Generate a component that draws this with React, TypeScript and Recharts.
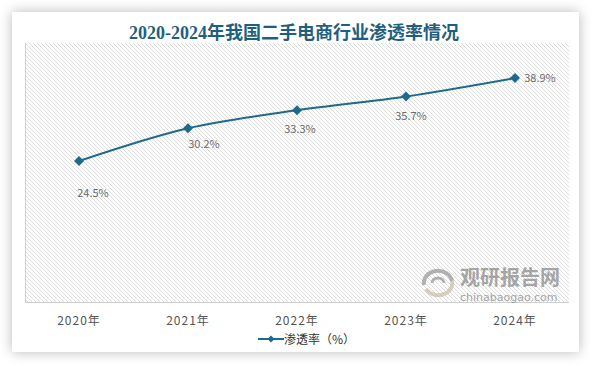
import { LineChart, Line, XAxis, YAxis, LabelList } from 'recharts';

const years = ['2020年', '2021年', '2022年', '2023年', '2024年'];
const penetration = [24.5, 30.2, 33.3, 35.7, 38.9];

const data = years.map((name, i) => ({ name, rate: penetration[i] }));

// label placement around each point
const labelPos = [
    { dx: 14, dy: 32 },
    { dx: 16, dy: 16 },
    { dx: 3, dy: 19 },
    { dx: 5, dy: 20 },
    { dx: 25, dy: 0 },
];

const LINE = '#1d6a8b';
const FONT = "'Noto Sans CJK SC', 'DejaVu Sans', sans-serif";

const Diamond = (props: any) => {
    const { cx, cy } = props;
    if (cx == null || cy == null) return null;
    return <path d={`M${cx},${cy - 5}L${cx + 5},${cy}L${cx},${cy + 5}L${cx - 5},${cy}Z`} fill={LINE} />;
};

const PointLabel = (props: any) => {
    const { x, y, value, index } = props;
    const p = labelPos[index] || { dx: 0, dy: 16 };
    return (
        <text x={x + p.dx} y={y + p.dy} dy="0.35em" textAnchor="middle" fontSize={11} fill="#6b6b6b" fontFamily={FONT}>
            {value}%
        </text>
    );
};

export default function App() {
    return (
        <div style={{ position: 'absolute', left: 0, top: 0, width: 592, height: 366, background: '#fff', overflow: 'hidden' }}>
            <div style={{ position: 'absolute', left: 12, top: 12, width: 567, height: 340, background: '#fff', boxShadow: '0 0 12px rgba(0,0,0,0.28)' }} />
            <div style={{ position: 'absolute', left: 0, top: 18, width: 588, textAlign: 'center', fontFamily: "'Liberation Serif', 'Noto Sans CJK SC', serif", fontWeight: 'bold', fontSize: 18, color: '#1e5f80' }}>
                2020-2024年我国二手电商行业渗透率情况
            </div>
            <svg width={544} height={260} style={{ position: 'absolute', left: 25, top: 43 }}>
                <defs>
                    <pattern id="hatch" width={4} height={4} patternUnits="userSpaceOnUse">
                        <path d="M-1,-1L5,5M-1,3L1,5M3,-1L5,1" stroke="#dcdcdc" strokeWidth={1} />
                    </pattern>
                </defs>
                <rect x={0} y={0} width={544} height={260} fill="url(#hatch)" />
                <line x1={0.5} y1={0} x2={0.5} y2={259.5} stroke="#cfcfcf" />
                <line x1={0} y1={259.5} x2={544} y2={259.5} stroke="#cfcfcf" />
            </svg>
            <div style={{ position: 'absolute', left: 418, top: 266, width: 150, height: 40, opacity: 0.75 }}>
                <svg width={40} height={30} style={{ position: 'absolute', left: 0, top: 1 }}>
                    <path d="M6,18 A14,12 0 1 1 34,14" fill="none" stroke="#9a9a9a" strokeWidth={4} />
                    <path d="M34,14 A14,12 0 0 1 8,22" fill="none" stroke="#cbbfa8" strokeWidth={4} />
                    <path d="M14,16 A6,5 0 1 1 26,16" fill="none" stroke="#9a9a9a" strokeWidth={3} />
                </svg>
                <div style={{ position: 'absolute', left: 42, top: -4, fontFamily: FONT, fontWeight: 'bold', fontSize: 20, color: '#8a8a8a' }}>观研报告网</div>
                <div style={{ position: 'absolute', left: 42, top: 25, fontFamily: "'DejaVu Sans', sans-serif", fontSize: 11, color: '#8a8a8a' }}>chinabaogao.com</div>
            </div>
            <div style={{ position: 'absolute', left: 0, top: 0 }}>
                <LineChart width={592} height={366} data={data} margin={{ top: 43, right: 23, bottom: 34, left: 25 }}>
                    <XAxis
                        dataKey="name"
                        height={30}
                        padding={{ left: 54, right: 54 }}
                        axisLine={false}
                        tickLine={false}
                        tickSize={12}
                        interval={0}
                        tick={{ fill: '#555', fontSize: 12, fontFamily: FONT, letterSpacing: 1 }}
                    />
                    <YAxis hide width={0} domain={[0, 45]} />
                    <Line
                        type="monotone"
                        dataKey="rate"
                        stroke={LINE}
                        strokeWidth={2}
                        dot={<Diamond />}
                        activeDot={false}
                        isAnimationActive={false}
                    >
                        <LabelList dataKey="rate" content={<PointLabel />} />
                    </Line>
                </LineChart>
            </div>
            <div style={{ position: 'absolute', left: 258, top: 330, display: 'flex', alignItems: 'center', fontFamily: FONT, fontSize: 12, color: '#333' }}>
                <svg width={26} height={10}>
                    <line x1={0} y1={5} x2={26} y2={5} stroke={LINE} strokeWidth={2} />
                    <path d="M13,1.5L16.5,5L13,8.5L9.5,5Z" fill={LINE} />
                </svg>
                <span>渗透率（%）</span>
            </div>
        </div>
    );
}
